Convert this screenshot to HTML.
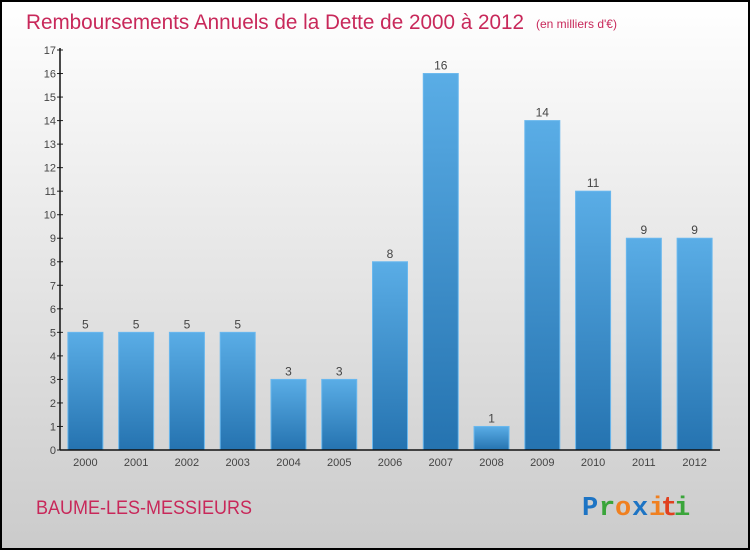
<!DOCTYPE html>
<html><head><meta charset="utf-8"><style>
body{margin:0;width:750px;height:550px;overflow:hidden;font-family:"Liberation Sans",sans-serif}
</style></head><body>
<svg width="750" height="550" viewBox="0 0 750 550">
<defs>
<linearGradient id="bg" x1="0" y1="0" x2="0" y2="1"><stop offset="0" stop-color="#ffffff"/><stop offset="1" stop-color="#cbcbcb"/></linearGradient>
<linearGradient id="bar" x1="0" y1="0" x2="0" y2="1"><stop offset="0" stop-color="#5aade6"/><stop offset="1" stop-color="#2573b0"/></linearGradient>
</defs>
<rect x="1" y="1" width="748" height="548" fill="url(#bg)" stroke="#000" stroke-width="2"/>
<text x="26" y="29" font-size="21" fill="#c8285a" textLength="498" lengthAdjust="spacingAndGlyphs">Remboursements Annuels de la Dette de 2000 à 2012</text>
<text x="536" y="28" font-size="12" fill="#c8285a">(en milliers d'€)</text>
<g id="yaxis"></g>
<g id="bars"></g>
<g id="xaxis"></g>
<text x="36" y="514" font-size="19" fill="#c8285a" textLength="216" lengthAdjust="spacingAndGlyphs">BAUME-LES-MESSIEURS</text>
<g font-size="27" font-weight="bold" font-family="'Liberation Mono',monospace">
<text x="582" y="515" fill="#1d74c4">P</text><text x="599" y="515" fill="#3aa53a">r</text><text x="615" y="515" fill="#f08020">o</text><text x="632" y="515" fill="#1d74c4">x</text><text x="649" y="515" fill="#f08020">i</text><text x="661" y="515" fill="#e04020">t</text><text x="674" y="515" fill="#3aa53a">i</text>
</g>
</svg>
<script>
const categories=["2000","2001","2002","2003","2004","2005","2006","2007","2008","2009","2010","2011","2012"];
const values=[5,5,5,5,3,3,8,16,1,14,11,9,9];
const yTicks=[0,1,2,3,4,5,6,7,8,9,10,11,12,13,14,15,16,17];
const NS="http://www.w3.org/2000/svg";
const x0=60,x1=720,y0=450,y1=50,ymax=17;
const band=(x1-x0)/categories.length;
const y=v=>y0-(v/ymax)*(y0-y1);
const xc=i=>x0+band*(i+0.5);
function mk(t,a,p){const e=document.createElementNS(NS,t);for(const k in a)e.setAttribute(k,a[k]);p.appendChild(e);return e;}
const ya=document.getElementById('yaxis'),bg=document.getElementById('bars'),xa=document.getElementById('xaxis');
yTicks.forEach(v=>{
 const l=mk('line',{x1:x0-3,x2:x0+3,y1:y(v),y2:y(v),stroke:'#222'},ya);
 
 
 const t=mk('text',{x:x0-4,y:y(v)+4,'text-anchor':'end','font-size':11,fill:'#444'},ya);
 t.textContent=v;
 
 
});
values.forEach((v,i)=>{
 const w=35;
 const r=mk('rect',{x:xc(i)-w/2,y:y(v),width:w,height:y0-y(v),fill:'url(#bar)',stroke:'#6ab8ee','stroke-width':1},bg);
 
 
 const t=mk('text',{x:xc(i),y:y(v)-4,'text-anchor':'middle','font-size':12,fill:'#444'},bg);
 t.textContent=v;
 
 
 const c=mk('text',{x:xc(i),y:466,'text-anchor':'middle','font-size':11,fill:'#444'},xa);
 c.textContent=categories[i];
 
 
});
const ay=mk('line',{x1:x0,x2:x0,y1:y1-2,y2:y0,stroke:'#111','stroke-width':1.5},ya);


const ax=mk('line',{x1:x0,x2:x1,y1:y0,y2:y0,stroke:'#111','stroke-width':1.5},xa);


</script>
</body></html>
